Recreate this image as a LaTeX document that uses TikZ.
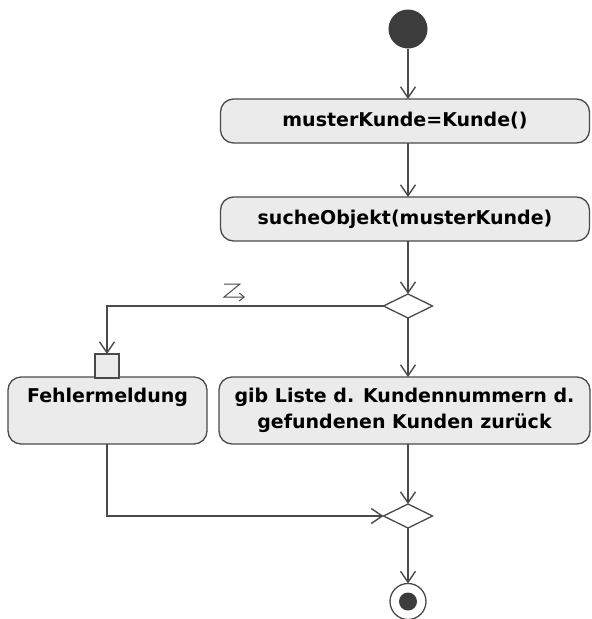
\documentclass[tikz,border=0pt]{standalone}
\usepackage{fontspec}
\setmainfont{DejaVu Sans}
\usetikzlibrary{arrows.meta,shapes.geometric}
\definecolor{linec}{HTML}{4A4A4A}
\definecolor{boxfill}{HTML}{EBEBEB}
\definecolor{dotc}{HTML}{3C3C3C}
\begin{document}
\begin{tikzpicture}[x=1pt,y=-1pt,
  every node/.style={inner sep=0pt,outer sep=0pt},
  action/.style={draw=linec,fill=boxfill,line width=1.3pt,rounded corners=13pt,
    align=center,font=\fontsize{19}{26}\selectfont\bfseries},
  pinbox/.style={draw=linec,fill=boxfill,line width=1.3pt,minimum width=24pt,minimum height=24pt},
  decision/.style={draw=linec,fill=white,line width=1.3pt,diamond,aspect=2,minimum width=49pt,minimum height=24pt},
  flow/.style={draw=linec,line width=1.4pt,-{Straight Barb[length=11pt,width=15pt]}},
  plain/.style={draw=linec,line width=1.3pt}]
\useasboundingbox (0,0) rectangle (592,619);
% nodes
\node[circle,fill=dotc,minimum size=39pt] (start) at (408,29) {};
\node[action,minimum width=369pt,minimum height=44pt] (b1) at (405,121) {musterKunde=Kunde()};
\node[action,minimum width=369pt,minimum height=44pt] (b2) at (405,219) {sucheObjekt(musterKunde)};
\node[decision] (d1) at (408,306) {};
\node[action,minimum width=199pt,minimum height=67pt] (fm) at (107.5,410.5) {Fehlermeldung\\\phantom{g}};
\node[pinbox] (pin) at (107,366) {};
\node[action,minimum width=371pt,minimum height=67pt] (b3) at (404.5,410.5) {gib Liste d. Kundennummern d.\\gefundenen Kunden zurück};
\node[decision] (d2) at (408,516) {};
\node[circle,draw=linec,line width=1.3pt,fill=white,minimum size=36pt] (fin) at (408,601.5) {};
\node[circle,fill=dotc,minimum size=18pt] (findot) at (fin.center) {};
% connectors
\draw[flow] (start.south) -- (start.south |- b1.north);
\draw[flow] (start.south |- b1.south) -- (start.south |- b2.north);
\draw[flow] (d1 |- b2.south) -- (d1.north);
\draw[flow] (d1.west) -| (pin.north);
\draw[flow] (d1.south) -- (d1.south |- b3.north);
\draw[flow] (d1 |- b3.south) -- (d2.north);
\draw[flow] (pin |- fm.south) |- (d2.west);
\draw[flow] (d2.south) -- (fin.north);
% interrupt (lightning) symbol on the exception edge
\coordinate (zz) at (224,284);
\draw[draw=linec,line width=1pt,-{Straight Barb[length=5pt,width=8pt]}]
  (zz) -- ++(16,0) -- ++(-16,13) -- ++(21,0);
\end{tikzpicture}
\end{document}
